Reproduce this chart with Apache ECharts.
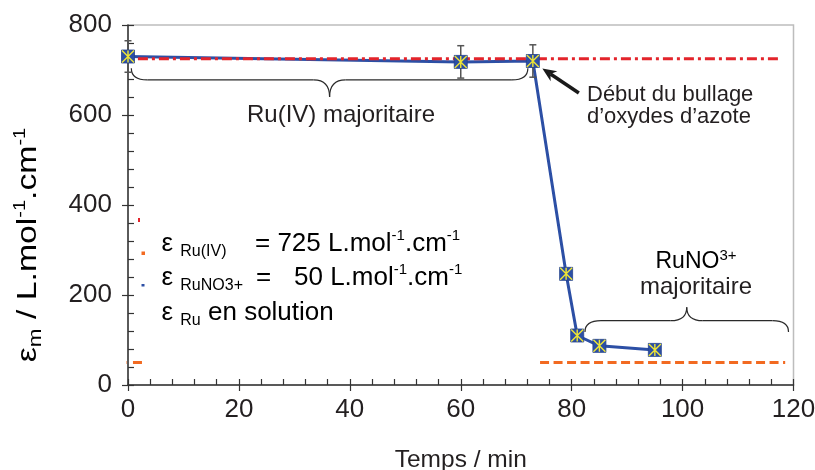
<!DOCTYPE html>
<html>
<head>
<meta charset="utf-8">
<script src="https://cdn.jsdelivr.net/npm/echarts/dist/echarts.min.js"></script>
<style>
  html, body { margin: 0; padding: 0; background: #fff; }
  #chart { width: 815px; height: 470px; }
</style>
</head>
<body>
<div id="chart"></div>
<script>
// Molar absorption coefficient of ruthenium vs time
const times   = [0, 60, 73, 79, 81, 85, 95];            // min
const epsilon = [730, 718, 720, 247, 110, 87, 78];     // L.mol-1.cm-1
// error bars (index into the series above, half-width)
const errIndex = [0, 1, 2];
const errHalf  = [35, 36, 36];

// reference levels
const epsRuIV  = 725;
const epsRuNO  = 50;
const ruIVSpan      = [-2, 117.6];
const ruNOSpanLeft  = [-1.9, 2.6];
const ruNOSpanRight = [74.3, 118.5];

// axes
const xMin = 0, xMax = 120, xStep = 20;
const yMin = 0, yMax = 800, yStep = 200;

const FONT = '"Liberation Sans", Arial, Helvetica, sans-serif';
const INK = '#231f20';
const AXIS = '#333333';
const BLUE = '#2c4fa5';
const RED = '#e3242b';
const ORANGE = '#f26a21';
const YELLOW = '#eee535';

const chart = echarts.init(document.getElementById('chart'), null, { renderer: 'canvas' });

function valueAxis(kind, main) {
  const base = {
    type: 'value',
    min: kind === 'x' ? xMin : yMin,
    max: kind === 'x' ? xMax : yMax,
    interval: kind === 'x' ? xStep : yStep,
    splitLine: { show: false },
    nameMoveOverlap: false
  };
  if (main) {
    return Object.assign(base, {
      axisLine: { show: true, onZero: false, lineStyle: { color: AXIS, width: 1.5 } },
      axisTick: { show: true, inside: true, length: 6, lineStyle: { color: AXIS, width: 1.2 } },
      minorTick: { show: true, splitNumber: 5, length: 6, lineStyle: { color: AXIS, width: 1.2 } },
      axisLabel: {
        show: true, margin: kind === 'x' ? 12 : 16, fontSize: 26,
        fontFamily: FONT, color: INK
      }
    });
  }
  // outer half of the major ticks (they cross the axis line)
  return Object.assign(base, {
    axisLine: { show: false, onZero: false },
    axisTick: { show: true, inside: false, length: 6, lineStyle: { color: AXIS, width: 1.2 } },
    minorTick: { show: false },
    axisLabel: { show: false }
  });
}

const xMain = valueAxis('x', true);
xMain.position = 'bottom';
xMain.name = 'Temps / min';
xMain.nameLocation = 'middle';
xMain.nameGap = 63;
xMain.nameTextStyle = { fontSize: 24.5, fontFamily: FONT, color: INK };
const xOuter = valueAxis('x', false);
xOuter.position = 'bottom';
const yMain = valueAxis('y', true);
yMain.position = 'left';
const yOuter = valueAxis('y', false);
yOuter.position = 'left';

const refLine = (span, level) => [[span[0], level], [span[1], level]];

const option = {
  animation: false,
  backgroundColor: '#ffffff',
  grid: {
    left: 128, right: 21.5, top: 25, bottom: 85,
    show: true, borderColor: '#bdbdbd', borderWidth: 1.5,
    outerBoundsMode: 'none'
  },
  xAxis: [xMain, xOuter],
  yAxis: [yMain, yOuter],
  series: [
    {
      name: 'eps',
      type: 'line',
      data: times.map((t, i) => [t, epsilon[i]]),
      symbol: 'none',
      lineStyle: { color: BLUE, width: 3 },
      z: 2
    },
    {
      name: 'RuIV',
      type: 'line',
      data: refLine(ruIVSpan, epsRuIV),
      symbol: 'none', clip: false,
      lineStyle: { color: RED, width: 3, type: [10, 4, 3, 4] },
      z: 3
    },
    {
      name: 'RuNO left',
      type: 'line',
      data: refLine(ruNOSpanLeft, epsRuNO),
      symbol: 'none', clip: false,
      lineStyle: { color: ORANGE, width: 3, type: [9, 6.5] },
      z: 3
    },
    {
      name: 'RuNO right',
      type: 'line',
      data: refLine(ruNOSpanRight, epsRuNO),
      symbol: 'none', clip: false,
      lineStyle: { color: ORANGE, width: 3, type: [9, 4.5] },
      z: 3
    },
    {
      name: 'errors',
      type: 'custom',
      clip: false,
      data: errIndex.map((k, i) => [times[k], epsilon[k] - errHalf[i], epsilon[k] + errHalf[i]]),
      renderItem: function (params, api) {
        const x = api.value(0);
        const lo = api.coord([x, api.value(1)]);
        const hi = api.coord([x, api.value(2)]);
        const w = 3.5;
        const st = { stroke: '#555', lineWidth: 1.5 };
        return {
          type: 'group',
          children: [
            { type: 'line', shape: { x1: lo[0], y1: lo[1], x2: hi[0], y2: hi[1] }, style: st },
            { type: 'line', shape: { x1: lo[0] - w, y1: lo[1], x2: lo[0] + w, y2: lo[1] }, style: st },
            { type: 'line', shape: { x1: hi[0] - w, y1: hi[1], x2: hi[0] + w, y2: hi[1] }, style: st }
          ]
        };
      },
      z: 4
    },
    {
      name: 'markers',
      type: 'scatter',
      data: times.map((t, i) => [t, epsilon[i]]),
      symbol: 'rect',
      symbolSize: 13,
      itemStyle: { color: BLUE, borderColor: '#24428c', borderWidth: 0.8, opacity: 1 },
      z: 5
    },
    {
      name: 'marker stars',
      type: 'scatter',
      data: times.map((t, i) => [t, epsilon[i]]),
      symbol: 'path://M0 0L10 10M10 0L0 10M5 0L5 10',
      symbolSize: 12,
      itemStyle: { color: 'rgba(0,0,0,0)', borderColor: YELLOW, borderWidth: 1.4, opacity: 1 },
      z: 6
    }
  ]
};

chart.setOption(option);

// ---- annotations: braces, arrow, labels, legend ----
const toPx = (x, y) => chart.convertToPixel({ xAxisIndex: 0, yAxisIndex: 0 }, [x, y]);

const BRACE_STYLE = { fill: 'none', stroke: '#2a2a2a', lineWidth: 1.2 };

// curly brace made of quadratic curves and straight runs
function brace(t0, t1, vEnd, vFlat, vTip, r) {
  const a = toPx(t0, vEnd), b = toPx(t1, vEnd);
  const yEnd = a[1], yFlat = toPx(t0, vFlat)[1], yTip = toPx(t0, vTip)[1];
  const x0 = a[0], x1 = b[0], xm = (x0 + x1) / 2;
  const q = (sx, sy, cx, cy, ex, ey) => ({
    type: 'bezierCurve', z: 10,
    shape: { x1: sx, y1: sy, cpx1: cx, cpy1: cy, x2: ex, y2: ey },
    style: BRACE_STYLE
  });
  const l = (sx, sy, ex, ey) => ({
    type: 'line', z: 10,
    shape: { x1: sx, y1: sy, x2: ex, y2: ey },
    style: BRACE_STYLE
  });
  return [
    q(x0, yEnd, x0, yFlat, x0 + r, yFlat),
    l(x0 + r, yFlat, xm - r, yFlat),
    q(xm - r, yFlat, xm, yFlat, xm, yTip),
    q(xm, yTip, xm, yFlat, xm + r, yFlat),
    l(xm + r, yFlat, x1 - r, yFlat),
    q(x1 - r, yFlat, x1, yFlat, x1, yEnd)
  ];
}

const richBase = (size, sub, sup, lh) => ({
  t: { fontSize: size, fontFamily: FONT, color: INK, lineHeight: lh },
  s: { fontSize: sub, fontFamily: FONT, color: INK, lineHeight: 12, verticalAlign: 'bottom' },
  p: { fontSize: sup, fontFamily: FONT, color: INK, lineHeight: 14, verticalAlign: 'top' }
});

function richText(x, y, text) {
  return {
    type: 'text', x: x, y: y, z: 10,
    style: {
      text: text, align: 'left', verticalAlign: 'middle',
      rich: richBase(26, 16, 15, 32)
    }
  };
}

function plainText(x, y, text, size, align) {
  return {
    type: 'text', x: x, y: y, z: 10,
    style: {
      text: text, fontSize: size, fontFamily: FONT, fill: INK,
      align: align || 'left', verticalAlign: 'middle'
    }
  };
}

// arrow toward the onset of bubbling
const pOnset = toPx(times[2], epsilon[2]);
const tip = [pOnset[0] + 9.5, pOnset[1] + 7.5];
const tail = [pOnset[0] + 46, pOnset[1] + 32];
const dx = tip[0] - tail[0], dy = tip[1] - tail[1];
const len = Math.hypot(dx, dy);
const ux = dx / len, uy = dy / len;
const headL = 14, headW = 12;
const base = [tip[0] - ux * headL, tip[1] - uy * headL];
const notch = [tip[0] - ux * headL * 0.7, tip[1] - uy * headL * 0.7];
const nx = -uy, ny = ux;

const graphics = [].concat(
  brace(0.6, 72.1, 704, 678, 640, 16),
  brace(82.4, 119.1, 118, 143, 173, 16),
  [
    {
      type: 'line', z: 10,
      shape: { x1: tail[0], y1: tail[1], x2: notch[0], y2: notch[1] },
      style: { stroke: '#1a1a1a', lineWidth: 3.5 }
    },
    {
      type: 'polygon', z: 10,
      shape: { points: [tip, [base[0] + nx * headW / 2, base[1] + ny * headW / 2], notch,
                        [base[0] - nx * headW / 2, base[1] - ny * headW / 2]] },
      style: { fill: '#1a1a1a' }
    },
    plainText(341, 115, 'Ru(IV) majoritaire', 24, 'center'),
    plainText(587, 95, 'Début du bullage', 22, 'left'),
    plainText(587, 117, 'd’oxydes d’azote', 22, 'left'),
    {
      type: 'text', x: 696, y: 262, z: 10,
      style: {
        text: '{t|RuNO}{p|3+}', align: 'center', verticalAlign: 'middle',
        rich: {
          t: { fontSize: 23, fontFamily: FONT, color: INK, lineHeight: 28 },
          p: { fontSize: 15, fontFamily: FONT, color: INK, lineHeight: 14, verticalAlign: 'top' }
        }
      }
    },
    plainText(696, 287, 'majoritaire', 24, 'center'),

    // legend block
    richText(161.5, 244, '{t|ε }{s|Ru(IV)}'),
    richText(255, 244, '{t|= 725 L.mol}{p|-1}{t|.cm}{p|-1}'),
    richText(161.5, 278, '{t|ε }{s|RuNO3+}'),
    richText(256, 278, '{t|=}'),
    richText(294, 278, '{t|50 L.mol}{p|-1}{t|.cm}{p|-1}'),
    richText(161.5, 313, '{t|ε }{s|Ru}{t| en solution}'),
    { type: 'rect', z: 10, shape: { x: 138, y: 218, width: 2, height: 4 }, style: { fill: RED } },
    { type: 'rect', z: 10, shape: { x: 141.5, y: 251.5, width: 3.5, height: 3.5 }, style: { fill: ORANGE } },
    { type: 'rect', z: 10, shape: { x: 141.5, y: 284, width: 3, height: 2.5 }, style: { fill: BLUE } },

    // y-axis title
    {
      type: 'text', x: 29, y: 245, rotation: Math.PI / 2, scaleX: 1.25, z: 10,
      style: {
        text: '{t|ε}{s|m}{t| / L.mol}{p|-1}{t|.cm}{p|-1}',
        align: 'center', verticalAlign: 'middle',
        rich: richBase(27, 18, 16, 32)
      }
    }
  ]
);

chart.setOption({ graphic: graphics });
</script>
</body>
</html>
